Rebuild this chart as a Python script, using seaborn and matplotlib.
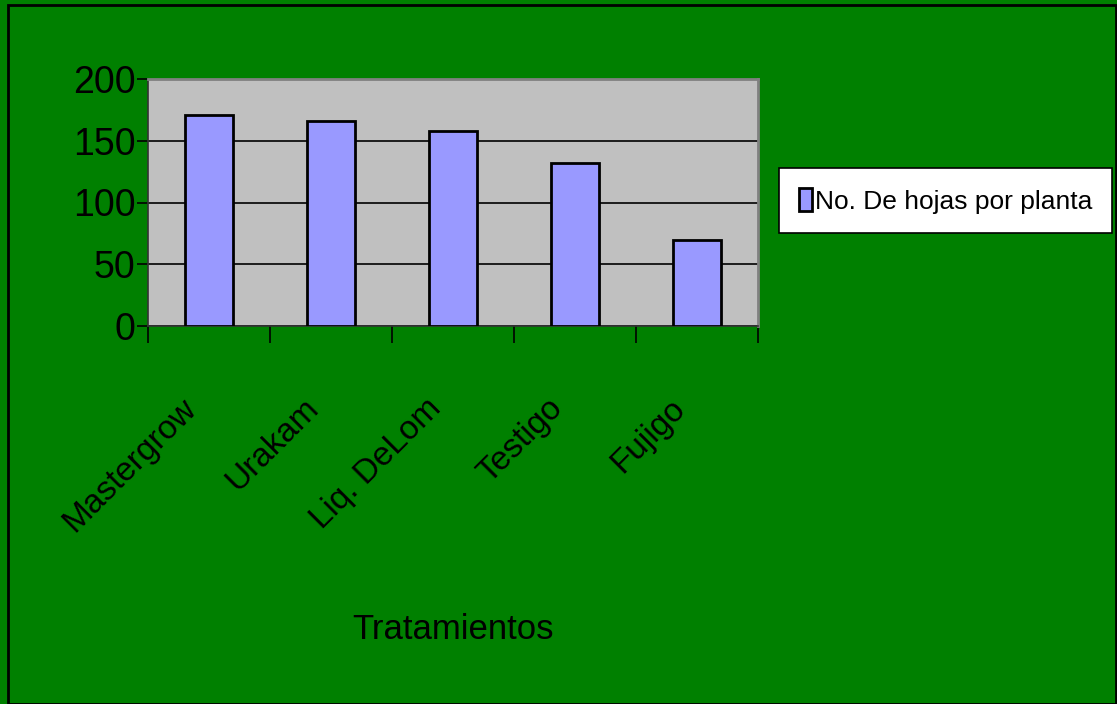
import matplotlib
matplotlib.use("Agg")
import matplotlib.pyplot as plt
import matplotlib.transforms as mtransforms
import seaborn as sns
import pandas as pd
from matplotlib.patches import Rectangle

# Datos
tratamientos = ["Mastergrow", "Urakam", "Liq. DeLom", "Testigo", "Fujigo"]
hojas = [171, 166, 158, 132, 70]
serie = "No. De hojas por planta"

sns.set_theme(style="white")
plt.rcParams["font.family"] = ["Liberation Sans", "DejaVu Sans"]
plt.rcParams["text.color"] = "black"
plt.rcParams["xtick.color"] = "black"
plt.rcParams["ytick.color"] = "black"
plt.rcParams["axes.labelcolor"] = "black"

df = pd.DataFrame({"Tratamiento": tratamientos, "Hojas": hojas})

fig = plt.figure(figsize=(11.17, 7.04), dpi=100, facecolor="#008000")
ax = fig.add_axes([148 / 1117, 1 - 326 / 704, 610 / 1117, 247 / 704])
ax.set_facecolor("#C0C0C0")

sns.barplot(data=df, x="Tratamiento", y="Hojas", color="#9999FF", width=0.4,
            edgecolor="black", linewidth=2, saturation=1, ax=ax, label=serie, zorder=3)

# Ejes y cuadricula
ax.set_ylim(0, 200)
ax.set_xlim(-0.5, len(tratamientos) - 0.5)
ax.set_yticks([0, 50, 100, 150, 200])
ax.yaxis.grid(True, color="black", linewidth=1.2, zorder=0)
ax.set_axisbelow(True)
for lado in ["top", "right"]:
    ax.spines[lado].set_color("#808080")
    ax.spines[lado].set_linewidth(2)
ax.spines["left"].set_color("#333333")
ax.spines["bottom"].set_color("#333333")
ax.spines["left"].set_linewidth(1.2)
ax.spines["bottom"].set_linewidth(1.2)

ax.tick_params(axis="y", direction="out", length=8, width=1.2, color="black",
               labelsize=27, pad=1, left=True)
ax.tick_params(axis="x", which="major", length=0, labelsize=24, pad=48)
ax.set_xticks(range(len(tratamientos)))
ax.set_xticklabels(tratamientos, rotation=45, ha="right", rotation_mode="anchor")
desplaza = mtransforms.ScaledTranslation(-0.28, 0.0, fig.dpi_scale_trans)
for lbl in ax.get_xticklabels():
    lbl.set_transform(lbl.get_transform() + desplaza)
ax.set_xticks([i - 0.5 for i in range(len(tratamientos) + 1)], minor=True)
ax.tick_params(axis="x", which="minor", direction="out", length=12, width=1.2,
               color="black", bottom=True)

ax.set_xlabel("Tratamientos", fontsize=25)
ax.set_ylabel("")
ax.xaxis.set_label_coords(0.5, -1.16)

# Leyenda
leg = ax.legend(loc="upper left", bbox_to_anchor=(1.035, 0.64), frameon=True,
                fancybox=False, fontsize=19, handlelength=0.5, handleheight=1.0,
                handletextpad=0.1, borderpad=0.75, borderaxespad=0, framealpha=1)
leg.get_frame().set_edgecolor("black")
leg.get_frame().set_linewidth(1.2)
leg.get_frame().set_facecolor("white")

# Marco de la figura
fig.patches.append(Rectangle((8 / 1117, 0), 1108 / 1117, 699 / 704,
                             transform=fig.transFigure, fill=False,
                             edgecolor="black", linewidth=2))

fig.savefig("out.png", dpi=100, facecolor=fig.get_facecolor())
